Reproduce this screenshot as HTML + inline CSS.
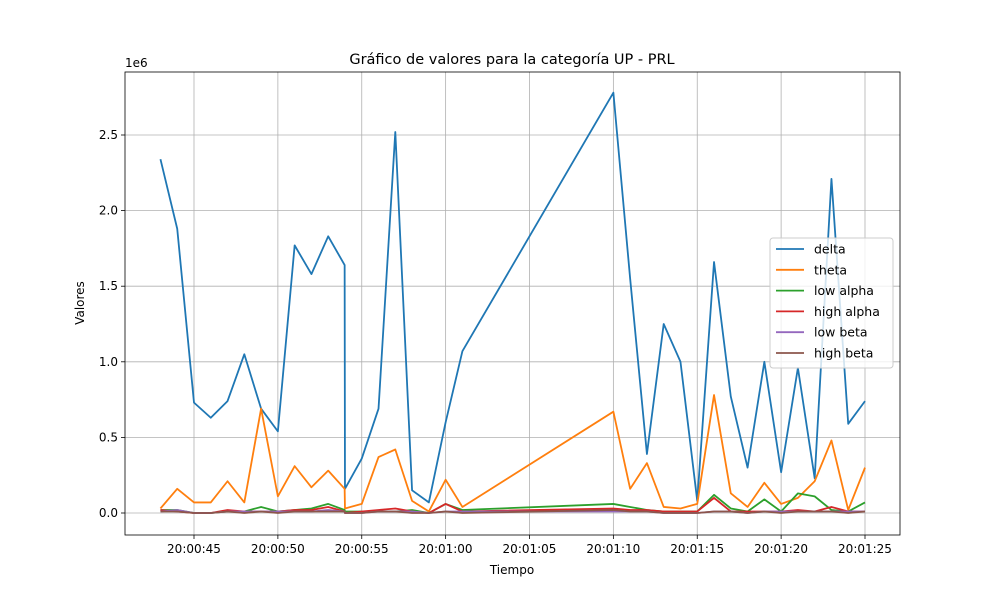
<!DOCTYPE html>
<html><head><meta charset="utf-8"><style>
body{margin:0;background:#fff;}
svg{display:block;font-family:"DejaVu Sans","Liberation Sans",sans-serif;}
</style></head><body>
<svg id="chart" width="1000" height="600"></svg>
<script>
const times=[43,44,45,46,47,48,49,50,51,52,53,53.98,54,55,56,57,58,59,60,61,70,71,72,73,74,75,76,77,78,79,80,81,82,83,84,85];
const delta=[2.34,1.88,0.73,0.63,0.74,1.05,0.69,0.54,1.77,1.58,1.83,1.64,0.16,0.36,0.69,2.52,0.15,0.07,0.6,1.07,2.78,1.55,0.39,1.25,1.0,0.08,1.66,0.77,0.30,1.0,0.27,0.96,0.23,2.21,0.59,0.74];
const theta=[0.03,0.16,0.07,0.07,0.21,0.07,0.69,0.11,0.31,0.17,0.28,0.16,0.03,0.06,0.37,0.42,0.08,0.01,0.22,0.04,0.67,0.16,0.33,0.04,0.03,0.06,0.78,0.13,0.04,0.2,0.06,0.1,0.21,0.48,0.02,0.30];
const lowAlpha=[0.02,0.02,0,0,0.01,0.01,0.04,0.01,0.02,0.03,0.06,0.02,0.01,0.01,0.01,0.01,0.02,0,0.06,0.02,0.06,0.04,0.02,0.01,0.01,0.01,0.12,0.03,0.01,0.09,0.01,0.13,0.11,0.02,0.01,0.07];
const highAlpha=[0.02,0.01,0,0,0.02,0.01,0.01,0.01,0.02,0.02,0.04,0.01,0,0.01,0.02,0.03,0.01,0,0.06,0.01,0.03,0.02,0.02,0.01,0.01,0.01,0.1,0.01,0.01,0.01,0.01,0.02,0.01,0.04,0.01,0.01];
const lowBeta=[0.01,0.02,0,0,0.01,0.01,0.01,0.01,0.01,0.01,0.02,0.01,0,0,0.01,0.01,0.01,0,0.01,0.01,0.01,0.01,0.01,0,0,0,0.01,0.01,0,0.01,0.01,0.01,0.01,0.01,0.01,0.01];
const highBeta=[0.01,0.01,0,0,0.01,0,0.01,0,0.01,0.01,0.01,0.01,0,0,0.01,0.01,0,0,0.01,0,0.02,0.01,0.01,0,0,0,0.01,0.01,0,0.01,0,0.01,0.01,0.01,0,0.01];
const xTicks=[45,50,55,60,65,70,75,80,85];
const xTickLabels=["20:00:45","20:00:50","20:00:55","20:01:00","20:01:05","20:01:10","20:01:15","20:01:20","20:01:25"];
const yTicks=[0,0.5,1.0,1.5,2.0,2.5];
const yTickLabels=["0.0","0.5","1.0","1.5","2.0","2.5"];
const seriesNames=["delta","theta","low alpha","high alpha","low beta","high beta"];
const seriesData=[delta,theta,lowAlpha,highAlpha,lowBeta,highBeta];
const colors=["#1f77b4","#ff7f0e","#2ca02c","#d62728","#9467bd","#8c564b"];

const L=125,R=900,T=72,B=535;
const xs=t=>194+(t-45)*(865-194)/40;
const ys=v=>513-v*(513-135)/2.5;
const svg=document.getElementById('chart');
const NS="http://www.w3.org/2000/svg";
function mk(tag,attrs,parent){const e=document.createElementNS(NS,tag);for(const k in attrs)e.setAttribute(k,attrs[k]);(parent||svg).appendChild(e);return e;}

const grid=mk('g',{});


xTicks.forEach((t,i)=>{
  const x=xs(t);
  mk('line',{x1:x,x2:x,y1:T,y2:B,stroke:'#b0b0b0','stroke-width':0.8},grid);
  mk('line',{x1:x,x2:x,y1:B,y2:B+4,stroke:'#000','stroke-width':0.8});
  const tx=mk('text',{x:x,y:B+18,'text-anchor':'middle','font-size':12});
  tx.textContent=xTickLabels[i];
  
  
});
yTicks.forEach((v,i)=>{
  const y=ys(v);
  mk('line',{x1:L,x2:R,y1:y,y2:y,stroke:'#b0b0b0','stroke-width':0.8},grid);
  mk('line',{x1:L-4,x2:L,y1:y,y2:y,stroke:'#000','stroke-width':0.8});
  const tx=mk('text',{x:L-7,y:y+4,'text-anchor':'end','font-size':12});
  tx.textContent=yTickLabels[i];
  
  
});
const ex=mk('text',{x:L,y:T-5,'font-size':12});ex.textContent='1e6';



seriesData.forEach((d,si)=>{
  const p=mk('polyline',{points:d.map((v,i)=>xs(times[i])+','+ys(v)).join(' '),fill:'none',stroke:colors[si],'stroke-width':1.8,'stroke-linejoin':'round'});
  
  
});
const frame=mk('rect',{x:L,y:T,width:R-L,height:B-T,fill:'none',stroke:'#000','stroke-width':0.8});



const title=mk('text',{x:512,y:64,'text-anchor':'middle','font-size':14.5});
title.textContent='Gráfico de valores para la categoría UP - PRL';


const xl=mk('text',{x:512,y:574,'text-anchor':'middle','font-size':12});xl.textContent='Tiempo';


const yl=mk('text',{x:0,y:0,'text-anchor':'middle','font-size':12,transform:'translate(84,303) rotate(-90)'});yl.textContent='Valores';



const lg=mk('g',{});


mk('rect',{x:770,y:238,width:123,height:130,rx:3,fill:'#fff','fill-opacity':0.8,stroke:'#ccc'},lg);
seriesNames.forEach((n,i)=>{
  const y=249+i*20.8;
  const e=mk('g',{},lg);
  
  
  mk('line',{x1:776,x2:804,y1:y,y2:y,stroke:colors[i],'stroke-width':1.8},e);
  const t=mk('text',{x:814,y:y+4.5,'font-size':12.5},e);t.textContent=n;
});
</script>
</body></html>
